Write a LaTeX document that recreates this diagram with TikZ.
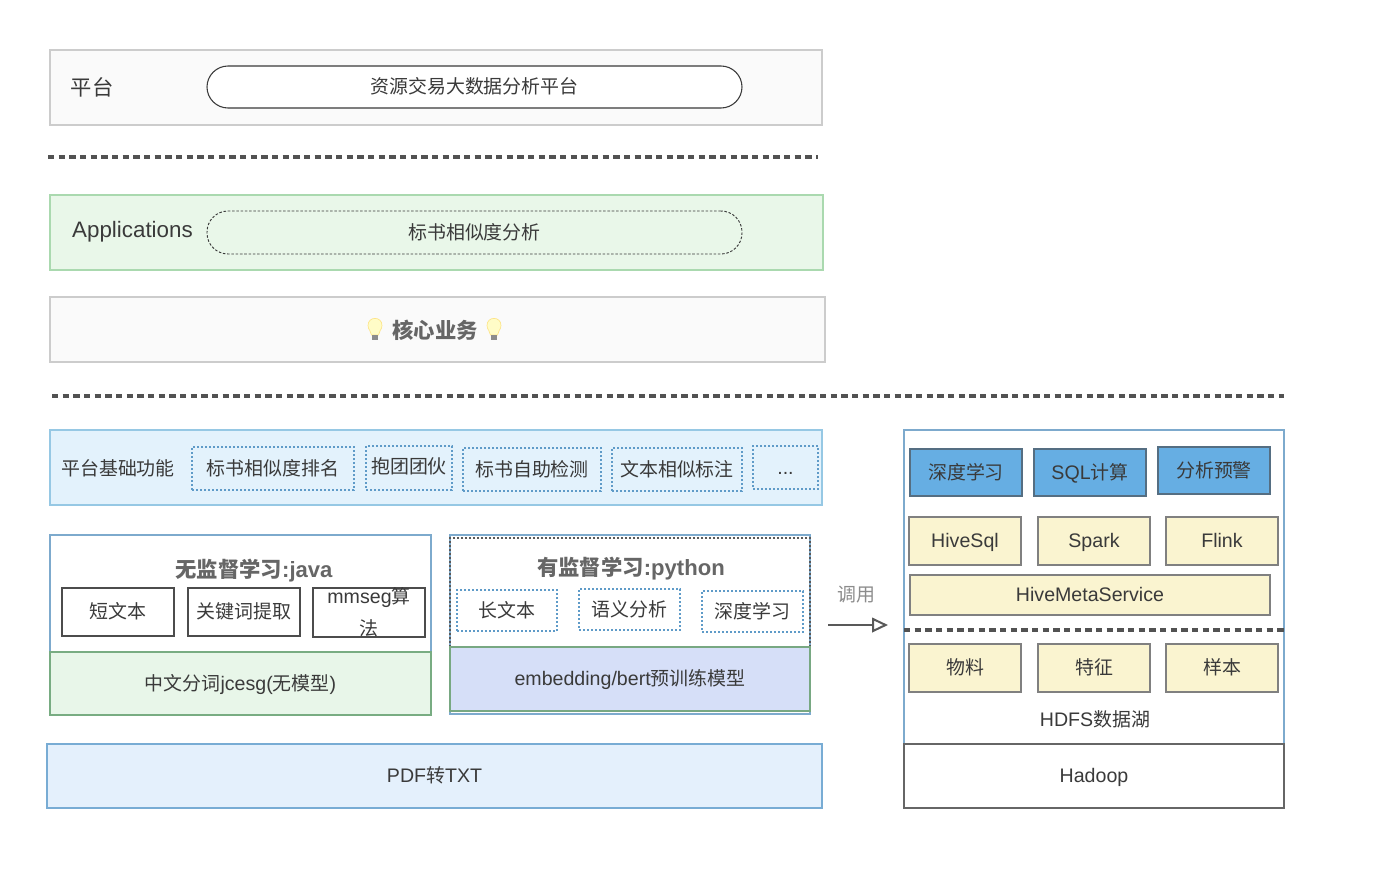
\documentclass[tikz,border=0pt]{standalone}
\usepackage{fontspec}
\usetikzlibrary{arrows.meta}
\setmainfont[Scale=1.035]{Liberation Sans}
\newfontfamily\cjkf{Noto Sans CJK SC}
\newcommand{\cj}[1]{{\cjkf #1}}
\newcommand{\fs}[1]{\fontsize{#1}{#1}\selectfont}
% style, name, x1, y1, x2, y2, text
\newcommand{\bx}[7]{\node[#1,minimum width={(#5-#3)*0.75pt},minimum height={(#6-#4)*0.75pt}] (#2) at ({(#3+#5)/2},{(#4+#6)/2}) {#7};}
\definecolor{txt}{HTML}{3A3A3A}
\tikzset{
  x=0.75pt,y=-0.75pt,
  base/.style={inner sep=0pt,outer sep=0pt,text=txt,font=\fs{14.2},align=center,text height=10pt,text depth=0pt},
  label/.style={inner sep=0pt,text=txt,font=\fs{14.2},align=center,text height=10pt,text depth=0pt},
  graybox/.style={base,draw=black!20,fill=black!2,line width=0.9pt},
  pill/.style={base,draw=txt,fill=white,rounded corners=15.8pt,line width=0.8pt},
  dashpill/.style={base,draw=txt,rounded corners=15.8pt,line width=0.7pt,dash pattern=on 1.9pt off 1.3pt},
  appbox/.style={base,draw={rgb,255:red,170;green,217;blue,175},fill={rgb,255:red,233;green,247;blue,233},line width=0.9pt},
  lightblue/.style={base,draw={rgb,255:red,150;green,200;blue,228},fill={rgb,255:red,227;green,242;blue,252},line width=0.9pt},
  dotbox/.style={base,draw={rgb,255:red,95;green,155;blue,200},dash pattern=on 1.5pt off 1.5pt,line width=0.9pt},
  graydot/.style={base,draw=black!65,dash pattern=on 1.5pt off 1.5pt,line width=0.9pt},
  outerblue/.style={base,draw={rgb,255:red,125;green,170;blue,205},fill=white,line width=0.9pt},
  whitebox/.style={base,draw=black!70,fill=white,line width=0.8pt},
  greenbox/.style={base,draw={rgb,255:red,120;green,172;blue,130},fill={rgb,255:red,232;green,246;blue,233},line width=0.85pt},
  violetbox/.style={base,draw={rgb,255:red,120;green,168;blue,130},fill={rgb,255:red,214;green,223;blue,248},line width=0.85pt},
  pdfbox/.style={base,draw={rgb,255:red,120;green,172;blue,212},fill={rgb,255:red,228;green,240;blue,252},line width=0.85pt},
  bluebox/.style={base,draw={rgb,255:red,85;green,110;blue,130},fill={rgb,255:red,102;green,174;blue,227},line width=0.85pt},
  yellowbox/.style={base,draw=black!50,fill={rgb,255:red,250;green,244;blue,208},line width=0.85pt},
  grayframe/.style={base,draw=black!60,fill=white,line width=0.85pt},
  sep/.style={draw=black!68,line width=2.3pt,dash pattern=on 4.8pt off 3.2pt},
  heading/.style={inner sep=0pt,text=black!60,font=\fs{16}\bfseries,align=center,text height=11pt,text depth=0pt},
}
\begin{document}
\begin{tikzpicture}
\useasboundingbox[fill=white] (0,0) rectangle (1400,889);
% top band
\bx{graybox}{plat}{50}{50}{822}{125}{}
\node[label,font=\fs{16}] (platl) at (92,88.5) {\cj{平台}};
\bx{pill}{platp}{207}{66}{742}{108}{\cj{资源交易大数据分析平台}}
\coordinate (s1a) at (48,157); \coordinate (s1b) at (818,157);
\draw[sep] (s1a) -- (s1b);
% applications
\bx{appbox}{apps}{50}{195}{823}{270}{}
\node[label,font=\fs{16.2}] (appsl) at (132.5,231) {Applications};
\bx{dashpill}{appsp}{207}{211}{742}{254}{\cj{标书相似度分析}}
% core
\bx{graybox}{core}{50}{297}{825}{362}{}
\node[heading] (corel) at (435,331) {\cj{核心业务}};
\foreach \bxc in {375,494}{
  \fill[yellow!22!white,draw=yellow!60!orange!45!white,line width=0.5pt] (\bxc-3.5,335) .. controls (\bxc-3.5,331) and (\bxc-7,330) .. (\bxc-7,325.5) .. controls (\bxc-7,316) and (\bxc+7,316) .. (\bxc+7,325.5) .. controls (\bxc+7,330) and (\bxc+3.5,331) .. (\bxc+3.5,335) -- cycle;
  \fill[black!45] (\bxc-3,335) rectangle (\bxc+3,339.5);
}
\coordinate (s2a) at (52,396); \coordinate (s2b) at (1284,396);
\draw[sep] (s2a) -- (s2b);
% base functions
\bx{lightblue}{basef}{50}{430}{822}{505}{}
\node[label] (basel) at (118,469) {\cj{平台基础功能}};
\bx{dotbox}{f1}{192}{447}{354}{490}{\cj{标书相似度排名}}
\bx{dotbox}{f2}{366}{446}{452}{490}{\raisebox{1pt}{\cj{抱团团伙}}}
\bx{dotbox}{f3}{463}{448}{601}{491}{\cj{标书自助检测}}
\bx{dotbox}{f4}{612}{448}{742}{491}{\cj{文本相似标注}}
\bx{dotbox}{f5}{753}{446}{818}{489}{...}
% java
\bx{outerblue}{java}{50}{535}{431}{715}{}
\node[heading] (javal) at (254,570) {\cj{无监督学习}:java};
\bx{whitebox}{j1}{62}{588}{174}{636}{\cj{短文本}}
\bx{whitebox}{j2}{188}{588}{300}{636}{\cj{关键词提取}}
\bx{whitebox}{j3}{313}{588}{425}{637}{}
\node[label] (j3a) at (369,597) {mmseg\cj{算}};
\node[label] (j3b) at (369,629) {\cj{法}};
\bx{greenbox}{jbot}{50}{652}{431}{715}{\cj{中文分词}jcesg(\cj{无模型})}
% python
\bx{outerblue}{py}{450}{535}{810}{714}{}
\bx{graydot}{pyd}{450}{538}{810}{647}{}
\node[heading] (pyl) at (631,568) {\cj{有监督学习}:python};
\bx{dotbox}{p1}{457}{590}{557}{631}{\cj{长文本}}
\bx{dotbox}{p2}{579}{589}{680}{630}{\cj{语义分析}}
\bx{dotbox}{p3}{702}{591}{803}{632}{\cj{深度学习}}
\bx{violetbox}{pbot}{450}{647}{810}{711}{embedding/bert\cj{预训练模型}}
% arrow
\coordinate (ca) at (828,625); \coordinate (cb) at (888,625);
\draw[draw=black!65,line width=1.5pt,-{Triangle[open,length=12pt,width=11pt,line width=1.5pt]}] (ca) -- (cb);
\node[label,text=black!45] (call) at (856,595) {\cj{调用}};
% pdf
\bx{pdfbox}{pdf}{47}{744}{822}{808}{PDF\cj{转}TXT}
% right
\bx{outerblue}{hdfs}{904}{430}{1284}{744}{}
\bx{grayframe}{hadoop}{904}{744}{1284}{808}{Hadoop}
\node[label] (hdfsl) at (1095,720) {HDFS\cj{数据湖}};
\bx{bluebox}{b1}{910}{449}{1022}{496}{\cj{深度学习}}
\bx{bluebox}{b2}{1034}{449}{1146}{496}{SQL\cj{计算}}
\bx{bluebox}{b3}{1158}{447}{1270}{494}{\cj{分析预警}}
\bx{yellowbox}{y1}{909}{517}{1021}{565}{HiveSql}
\bx{yellowbox}{y2}{1038}{517}{1150}{565}{Spark}
\bx{yellowbox}{y3}{1166}{517}{1278}{565}{Flink}
\bx{yellowbox}{y4}{910}{575}{1270}{615}{HiveMetaService}
\coordinate (s3a) at (904,630); \coordinate (s3b) at (1284,630);
\draw[sep] (s3a) -- (s3b);
\bx{yellowbox}{y5}{909}{644}{1021}{692}{\cj{物料}}
\bx{yellowbox}{y6}{1038}{644}{1150}{692}{\cj{特征}}
\bx{yellowbox}{y7}{1166}{644}{1278}{692}{\cj{样本}}
\end{tikzpicture}
\end{document}
